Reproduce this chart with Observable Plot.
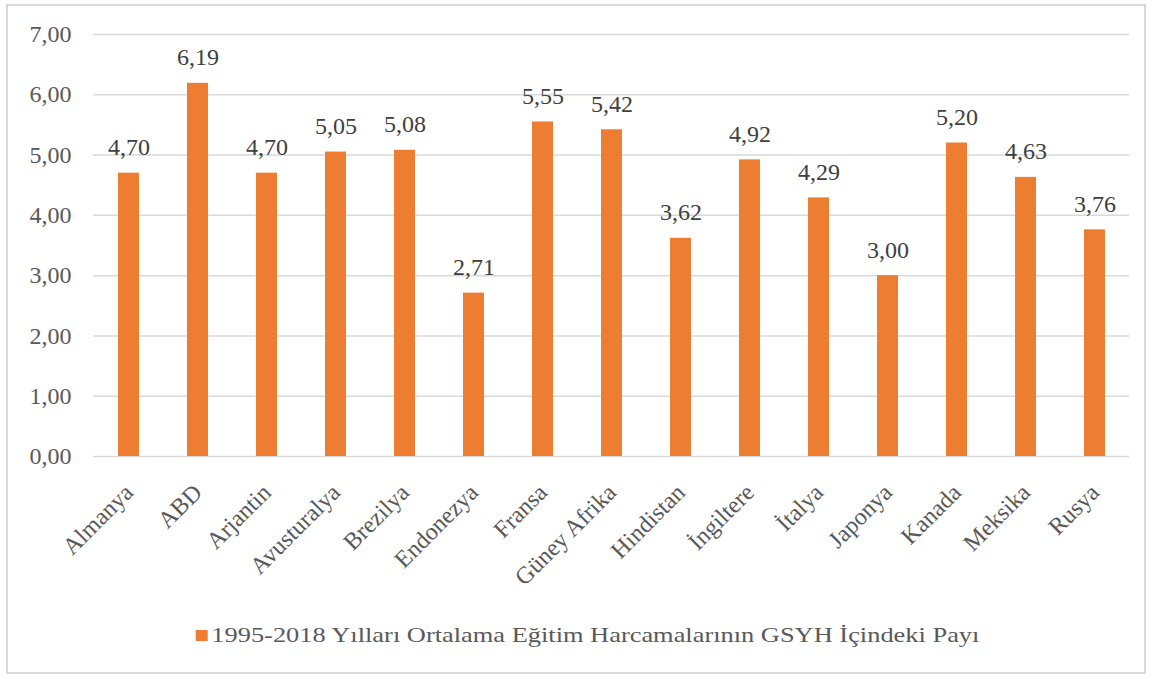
<!DOCTYPE html>
<html>
<head>
<meta charset="utf-8">
<script src="https://cdn.jsdelivr.net/npm/d3@7"></script>
<script src="https://cdn.jsdelivr.net/npm/@observablehq/plot@0.6"></script>
<style>
  html, body { margin: 0; padding: 0; background: #fff; }
  #frame { position: absolute; left: 6px; top: 4px; width: 1140px; height: 670px; border: 2px solid #d9d9d9; box-sizing: border-box; }
  #chart { position: absolute; left: 0; top: 0; }
  #legend { position: absolute; left: 0; top: 622px; width: 1176px; text-align: center; font-family: "Liberation Serif", "Times New Roman", serif; font-size: 22px; color: #595959; white-space: nowrap; }
  #legend .inner { display: inline-block; transform: scaleX(1.2); transform-origin: center center; }
  #legend .sw { display: inline-block; width: 10px; height: 11px; background: #ED7D31; margin-right: 3px; vertical-align: 1px; }
  svg text { font-family: "Liberation Serif", "Times New Roman", serif; }
</style>
</head>
<body>
<div id="frame"></div>
<div id="chart"></div>
<div id="legend"><span class="inner"><span class="sw"></span>1995-2018 Yılları Ortalama Eğitim Harcamalarının GSYH İçindeki Payı</span></div>
<script>
const countries = ["Almanya","ABD","Arjantin","Avusturalya","Brezilya","Endonezya","Fransa","Güney Afrika","Hindistan","İngiltere","İtalya","Japonya","Kanada","Meksika","Rusya"];
const values = [4.70, 6.19, 4.70, 5.05, 5.08, 2.71, 5.55, 5.42, 3.62, 4.92, 4.29, 3.00, 5.20, 4.63, 3.76];
const yTicks = [0, 1, 2, 3, 4, 5, 6, 7];
const seriesName = "1995-2018 Yılları Ortalama Eğitim Harcamalarının GSYH İçindeki Payı";

const data = countries.map((c, i) => ({country: c, value: values[i]}));
const fmt = v => v.toFixed(2).replace(".", ",");
const FONT = "Liberation Serif, Times New Roman, serif";

const chart = Plot.plot({
  width: 1152,
  height: 610,
  marginLeft: 93,
  marginRight: 23,
  marginTop: 34,
  marginBottom: 154,
  style: {fontFamily: FONT, fontSize: "24px", color: "#595959", background: "transparent"},
  x: {domain: countries, paddingInner: 0.7, paddingOuter: 0.35, align: 0.5},
  y: {domain: [0, 7]},
  marks: [
    Plot.gridY(yTicks, {stroke: "#d9d9d9", strokeOpacity: 1, strokeWidth: 1.5}),
    Plot.axisY(yTicks, {tickFormat: fmt, label: null, tickSize: 0, tickPadding: 22, fontSize: 24, fontFamily: FONT, fill: "#595959"}),
    Plot.axisX({label: null, tickSize: 0, tickPadding: 32, tickRotate: -45, fontSize: 24, fontFamily: FONT, fill: "#595959"}),
    Plot.barY(data, {x: "country", y: "value", fill: "#ED7D31"}),
    Plot.text(data, {x: "country", y: "value", text: d => fmt(d.value), lineAnchor: "bottom", dy: -18, fill: "#404040", fontSize: 24, fontFamily: FONT})
  ]
});
document.getElementById("chart").appendChild(chart);
</script>
</body>
</html>
